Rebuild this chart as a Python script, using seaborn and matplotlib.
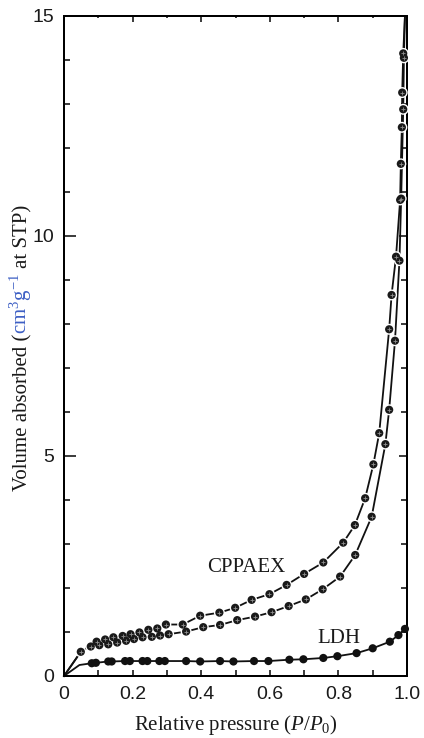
import matplotlib
matplotlib.use("Agg")
import matplotlib.pyplot as plt
from matplotlib.ticker import MultipleLocator, FixedLocator, FixedFormatter
import seaborn as sns
import pandas as pd

# ---- data: nitrogen sorption isotherms ----
# LDH (measured points)
ldh_p = [0.081, 0.093, 0.129, 0.139, 0.178, 0.192, 0.229, 0.243, 0.278, 0.294,
         0.356, 0.397, 0.455, 0.494, 0.554, 0.596, 0.657, 0.698, 0.756, 0.797,
         0.853, 0.900, 0.950, 0.975, 0.994]
ldh_v = [0.29, 0.30, 0.33, 0.33, 0.34, 0.34, 0.34, 0.34, 0.34, 0.34,
         0.34, 0.33, 0.34, 0.33, 0.34, 0.34, 0.37, 0.38, 0.41, 0.45,
         0.52, 0.63, 0.78, 0.93, 1.07]
# curve start for LDH (origin and knee below the first point)
ldh_start_p = [0.0, 0.045]
ldh_start_v = [0.0, 0.25]

# CPPAEX desorption branch (upper)
des_p = [0.049, 0.095, 0.120, 0.144, 0.171, 0.194, 0.220, 0.246, 0.272, 0.297,
         0.346, 0.397, 0.453, 0.499, 0.547, 0.599, 0.649, 0.700, 0.756, 0.814,
         0.848, 0.878, 0.902, 0.919, 0.948, 0.955, 0.968, 0.980, 0.982, 0.985,
         0.986, 0.989]
des_v = [0.55, 0.78, 0.83, 0.88, 0.91, 0.95, 0.99, 1.05, 1.08, 1.17,
         1.17, 1.37, 1.44, 1.55, 1.73, 1.86, 2.07, 2.32, 2.58, 3.03,
         3.43, 4.04, 4.81, 5.52, 7.88, 8.66, 9.53, 10.82, 11.64, 12.47,
         13.26, 14.15]

# CPPAEX adsorption branch (lower)
ads_p = [0.078, 0.103, 0.129, 0.155, 0.181, 0.204, 0.229, 0.256, 0.280, 0.305,
         0.356, 0.406, 0.455, 0.505, 0.557, 0.605, 0.655, 0.705, 0.754, 0.805,
         0.849, 0.897, 0.937, 0.948, 0.965, 0.978, 0.983, 0.989, 0.991]
ads_v = [0.67, 0.70, 0.72, 0.76, 0.80, 0.84, 0.88, 0.89, 0.92, 0.95,
         1.01, 1.11, 1.16, 1.27, 1.35, 1.45, 1.59, 1.74, 1.97, 2.26,
         2.75, 3.62, 5.27, 6.05, 7.62, 9.44, 10.85, 12.88, 14.05]

# both CPPAEX branches leave the origin and run up to saturation
cpp_origin = (0.0, 0.0)
cpp_top = (0.994, 15.0)

x_ticks = [0, 0.2, 0.4, 0.6, 0.8, 1.0]
x_labels = ["0", "0.2", "0.4", "0.6", "0.8", "1.0"]
y_ticks = [0, 5, 10, 15]
y_labels = ["0", "5", "10", "15"]

series_labels = {"CPPAEX": (0.532, 2.47), "LDH": (0.800, 0.85)}

# ---- styling ----
plt.rcParams["font.family"] = ["Liberation Sans", "DejaVu Sans"]
plt.rcParams["mathtext.fontset"] = "custom"
plt.rcParams["mathtext.rm"] = "Liberation Serif"
plt.rcParams["mathtext.it"] = "Liberation Serif:italic"
plt.rcParams["mathtext.bf"] = "Liberation Serif:bold"

SERIF = ["Liberation Serif", "DejaVu Serif"]
BLUE = "#3d5fc4"
PX = 72 / 100.0  # one pixel in points at dpi=100

fig = plt.figure(figsize=(4.24, 7.38), dpi=100)
ax = fig.add_axes([64 / 424, 62 / 738, 343 / 424, 660 / 738])

# ---- lines ----
lw = 1.3
ldh_line = pd.DataFrame({"p": ldh_start_p + ldh_p, "v": ldh_start_v + ldh_v})
des_line = pd.DataFrame({"p": [cpp_origin[0]] + des_p + [cpp_top[0]],
                         "v": [cpp_origin[1]] + des_v + [cpp_top[1]]})
ads_line = pd.DataFrame({"p": [cpp_origin[0], des_p[0]] + ads_p + [cpp_top[0]],
                         "v": [cpp_origin[1], des_v[0]] + ads_v + [cpp_top[1]]})
for d in (ldh_line, des_line, ads_line):
    sns.lineplot(data=d, x="p", y="v", sort=False, estimator=None,
                 color="#111111", lw=lw, ax=ax, zorder=2, clip_on=False)

# ---- markers ----
cpp_pts = pd.DataFrame({"p": des_p + ads_p, "v": des_v + ads_v})
# white halo, dark disc, light cross
sns.scatterplot(data=cpp_pts, x="p", y="v", s=(11.0 * PX) ** 2, color="white",
                edgecolor="none", ax=ax, zorder=3, clip_on=False)
sns.scatterplot(data=cpp_pts, x="p", y="v", s=(8.2 * PX) ** 2, color="#1a1a1a",
                edgecolor="none", ax=ax, zorder=4, clip_on=False)
sns.scatterplot(data=cpp_pts, x="p", y="v", marker="+", s=(3.8 * PX) ** 2,
                color="#8f8f8f", linewidth=0.6, ax=ax, zorder=5, clip_on=False)

ldh_pts = pd.DataFrame({"p": ldh_p, "v": ldh_v})
sns.scatterplot(data=ldh_pts, x="p", y="v", s=(8.2 * PX) ** 2, color="#111111",
                edgecolor="none", ax=ax, zorder=4, clip_on=False)

# ---- series labels ----
for name, (px_, py_) in series_labels.items():
    ax.text(px_, py_, name, family=SERIF, fontsize=15, ha="center", va="center",
            color="#1a1a1a")

# ---- axes ----
ax.set_xlim(0, 1.0)
ax.set_ylim(0, 15)
ax.set_xlabel("")
ax.set_ylabel("")
for s in ax.spines.values():
    s.set_linewidth(2.0 * PX)
    s.set_color("black")

ax.xaxis.set_major_locator(FixedLocator(x_ticks))
ax.xaxis.set_major_formatter(FixedFormatter(x_labels))
ax.xaxis.set_minor_locator(MultipleLocator(0.1))
ax.yaxis.set_major_locator(FixedLocator(y_ticks))
ax.yaxis.set_major_formatter(FixedFormatter(y_labels))
ax.yaxis.set_minor_locator(MultipleLocator(1))

ax.tick_params(axis="x", which="both", direction="in", length=6 * PX,
               width=1.5 * PX, top=False, labelsize=14, pad=7, colors="black")
ax.tick_params(axis="y", which="major", direction="in", length=12 * PX,
               width=1.5 * PX, right=False, labelsize=14, pad=7)
ax.tick_params(axis="y", which="minor", direction="in", length=6 * PX,
               width=1.5 * PX, right=False)
for lab in ax.get_xticklabels() + ax.get_yticklabels():
    lab.set_color("#1a1a1a")

# top and right frames carry their own tick sizes
top = ax.secondary_xaxis("top")
top.xaxis.set_major_locator(FixedLocator(x_ticks))
top.xaxis.set_minor_locator(MultipleLocator(0.1))
top.tick_params(which="major", direction="in", length=6 * PX, width=1.5 * PX,
                labeltop=False)
top.tick_params(which="minor", direction="in", length=2 * PX, width=1.5 * PX)
top.spines["top"].set_linewidth(2.0 * PX)

right = ax.secondary_yaxis("right")
right.yaxis.set_major_locator(FixedLocator(y_ticks))
right.yaxis.set_minor_locator(MultipleLocator(1))
right.tick_params(which="major", direction="in", length=8 * PX, width=1.5 * PX,
                  labelright=False)
right.tick_params(which="minor", direction="in", length=6 * PX, width=1.5 * PX)
right.spines["right"].set_linewidth(2.0 * PX)

# x axis title
fig.text(235.5 / 424, 1 - 725 / 738, "Relative pressure ($P$/$P_{0}$)",
         family=SERIF, fontsize=15, ha="center", va="center", color="#1a1a1a")

# y axis title in three coloured pieces, stacked along the rotated baseline
pieces = [("Volume absorbed (", "#1a1a1a", 0.0),
          ("cm$^{3}$g$^{-1}$", BLUE, 0.0),
          ("at STP)", "#1a1a1a", 5.0)]
base_x = 27.0
texts = []
for s, c, _ in pieces:
    t = fig.text(base_x / 424, 0.5, s, family=SERIF, fontsize=15, color=c,
                 rotation=90, rotation_mode="anchor", ha="left", va="baseline")
    texts.append(t)
fig.canvas.draw()
rend = fig.canvas.get_renderer()
lengths = [t.get_window_extent(rend).height for t in texts]
gaps = [g for _, _, g in pieces]
total = sum(lengths) + sum(gaps)
center_y = 738 - 348.0
y = center_y - total / 2
for t, L, g in zip(texts, lengths, gaps):
    y += g
    t.set_position((base_x / 424, y / 738))
    y += L

fig.savefig("out.png", dpi=100)
